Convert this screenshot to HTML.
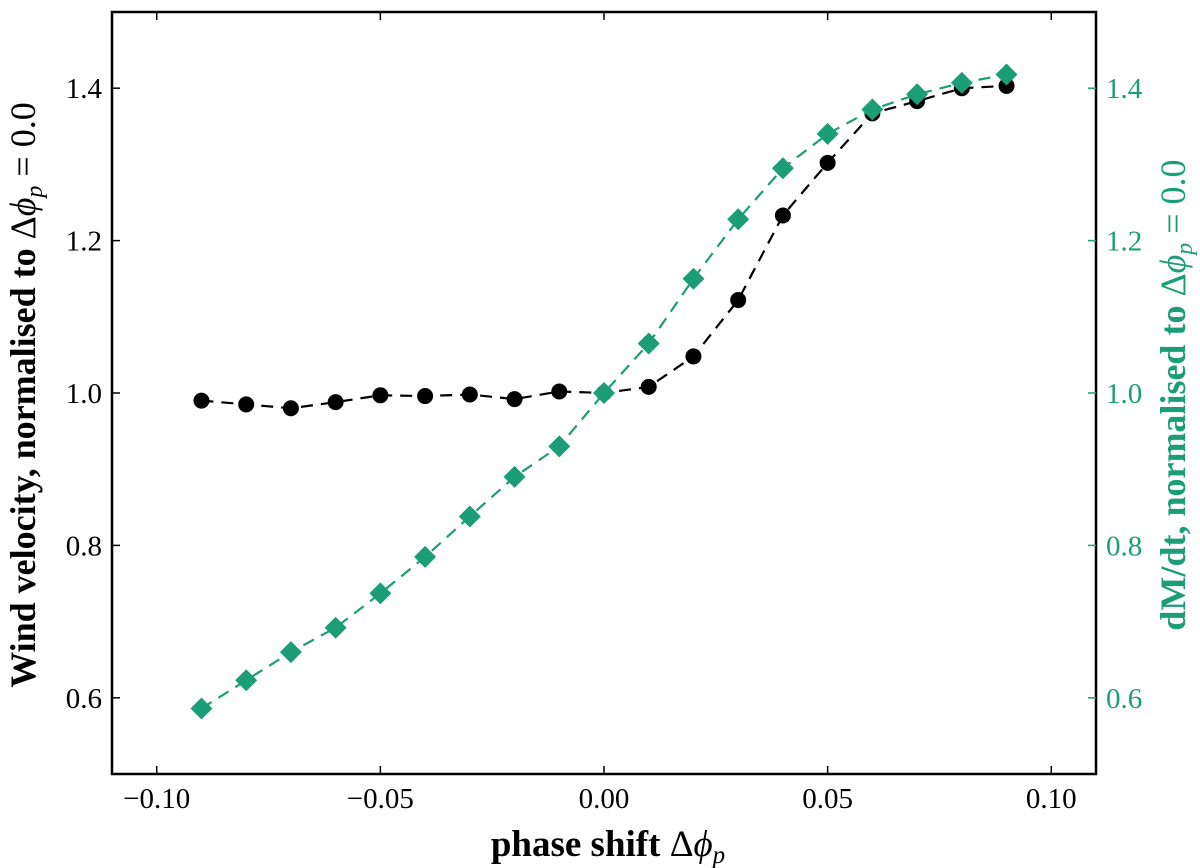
<!DOCTYPE html>
<html><head><meta charset="utf-8"><style>
body{margin:0;background:#fff;}
svg{display:block;font-family:"Liberation Serif",serif;}
</style></head><body>
<svg id="chart" width="1200" height="868"></svg>
<script>
const xValues=[-0.09,-0.08,-0.07,-0.06,-0.05,-0.04,-0.03,-0.02,-0.01,0,0.01,0.02,0.03,0.04,0.05,0.06,0.07,0.08,0.09];
const windVelocity=[0.99,0.985,0.98,0.988,0.997,0.996,0.998,0.992,1.002,1.0,1.008,1.048,1.122,1.233,1.302,1.367,1.383,1.400,1.403];
const massLoss=[0.586,0.623,0.660,0.692,0.737,0.785,0.838,0.890,0.930,1.0,1.065,1.150,1.228,1.295,1.340,1.372,1.392,1.407,1.418];
const xTicks=[-0.10,-0.05,0.00,0.05,0.10];
const xTickLabels=["\u22120.10","\u22120.05","0.00","0.05","0.10"];
const yTicks=[0.6,0.8,1.0,1.2,1.4];
const yTickLabels=["0.6","0.8","1.0","1.2","1.4"];
const GREEN="#1b9e77";
const L=112,R=1096,T=12,B=774;
const X=v=>L+(v+0.11)/0.22*(R-L);
const Y=v=>B-(v-0.5)/1.0*(B-T);
const svg=document.getElementById('chart');
const NS="http://www.w3.org/2000/svg";
function mk(tag,attrs,parent){const e=document.createElementNS(NS,tag);for(const k in attrs)e.setAttribute(k,attrs[k]);(parent||svg).appendChild(e);return e;}
const g1=mk('g',{});


mk('polyline',{points:xValues.map((x,i)=>X(x)+','+Y(windVelocity[i])).join(' '),fill:'none',stroke:'#000','stroke-width':2.2,'stroke-dasharray':'12,8'},g1);
xValues.forEach((x,i)=>{const c=mk('circle',{cx:X(x),cy:Y(windVelocity[i]),r:8,fill:'#000'},g1);

});
const g2=mk('g',{});


mk('polyline',{points:xValues.map((x,i)=>X(x)+','+Y(massLoss[i])).join(' '),fill:'none',stroke:GREEN,'stroke-width':2.2,'stroke-dasharray':'12,8'},g2);
xValues.forEach((x,i)=>{const cx=X(x),cy=Y(massLoss[i]),s=11;const p=mk('polygon',{points:`${cx},${cy-s} ${cx+s},${cy} ${cx},${cy+s} ${cx-s},${cy}`,fill:GREEN},g2);

});
const fr=mk('rect',{x:L,y:T,width:R-L,height:B-T,fill:'none',stroke:'#000','stroke-width':2.5});


xTicks.forEach((t,i)=>{const x=X(t);
mk('line',{x1:x,x2:x,y1:B,y2:B-8,stroke:'#000','stroke-width':1.5});
mk('line',{x1:x,x2:x,y1:T,y2:T+8,stroke:'#000','stroke-width':1.5});
const tx=mk('text',{x:x,y:B+34,'text-anchor':'middle','font-size':29,fill:'#000'});tx.textContent=xTickLabels[i];

});
yTicks.forEach((t,i)=>{const y=Y(t);
mk('line',{x1:L,x2:L+8,y1:y,y2:y,stroke:'#000','stroke-width':1.5});
mk('line',{x1:R,x2:R-8,y1:y,y2:y,stroke:GREEN,'stroke-width':1.5});
const a=mk('text',{x:L-10,y:y+10,'text-anchor':'end','font-size':29,fill:'#000'});a.textContent=yTickLabels[i];


const b=mk('text',{x:R+10,y:y+10,'text-anchor':'start','font-size':29,fill:GREEN});b.textContent=yTickLabels[i];

});
</script>
<div style="position:absolute;left:0;top:0;width:1200px;height:868px;pointer-events:none">
<svg width="1200" height="868" style="position:absolute;left:0;top:0;font-family:'Liberation Serif',serif">
<text x="608" y="856" text-anchor="middle" font-size="37" font-weight="bold">phase shift <tspan font-weight="normal">Δ</tspan><tspan font-weight="normal" font-style="italic">ϕ</tspan><tspan font-weight="normal" font-style="italic" font-size="25" dy="7">p</tspan></text>
<text transform="translate(35,395) rotate(-90)" text-anchor="middle" font-size="36" font-weight="bold">Wind velocity, normalised to <tspan font-weight="normal">Δ</tspan><tspan font-weight="normal" font-style="italic">ϕ</tspan><tspan font-weight="normal" font-style="italic" font-size="24" dy="7">p</tspan><tspan font-weight="normal" dy="-7"> = 0.0</tspan></text>
<text transform="translate(1185,395) rotate(-90)" text-anchor="middle" font-size="36" font-weight="bold" fill="#1b9e77">dM/dt, normalised to <tspan font-weight="normal">Δ</tspan><tspan font-weight="normal" font-style="italic">ϕ</tspan><tspan font-weight="normal" font-style="italic" font-size="24" dy="7">p</tspan><tspan font-weight="normal" dy="-7"> = 0.0</tspan></text>
</svg></div>
</body></html>
